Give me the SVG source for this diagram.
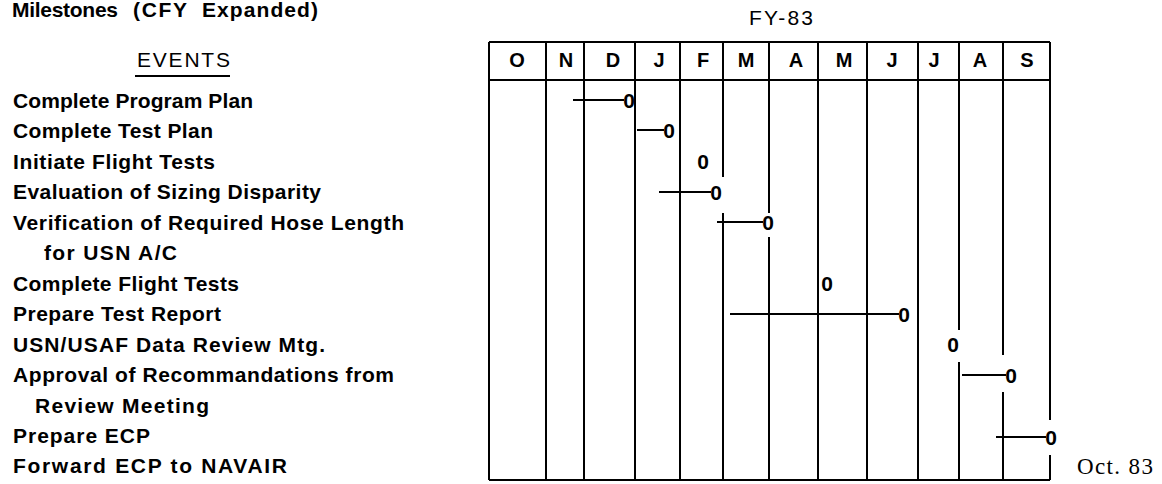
<svg xmlns="http://www.w3.org/2000/svg" width="1162" height="484" viewBox="0 0 1162 484">
<style>
.t{font-family:"Liberation Sans",Arial,sans-serif;font-size:21px;font-weight:bold;fill:#000}
.h{font-family:"Liberation Sans",Arial,sans-serif;font-size:21px;fill:#000}
.m{font-family:"Liberation Sans",Arial,sans-serif;font-size:20px;font-weight:bold;fill:#000;text-anchor:middle}
.z{font-family:"Liberation Sans",Arial,sans-serif;font-size:21px;font-weight:bold;fill:#000;text-anchor:middle}
.g{stroke:#000;stroke-width:2;fill:none}
.b{stroke:#000;stroke-width:2;fill:none}
</style>
<rect width="1162" height="484" fill="#fff"/>
<g id="title">
<text class="t" y="17" font-size="19"><tspan x="12" textLength="106">Milestones</tspan><tspan x="133" textLength="54">(CFY</tspan><tspan x="202" textLength="116">Expanded)</tspan></text>
<text class="h" x="137" y="67" textLength="93">EVENTS</text>
<line class="g" x1="135" y1="76" x2="230" y2="76"/>
<text class="h" x="749" y="25" textLength="64">FY-83</text>
</g>
<g id="grid">
<path class="g" d="M489 42H1050M489 80H1050M489 480H1050M489 42V480M546 42V480M584 42V480M635 42V480M680 42V480M723 42V177M723 213V480M769 42V213M769 237V480M818 42V480M867 42V480M918 42V480M959 42V330M959 362V480M1003 42V355M1003 392V480M1050 42V420M1050 455V480"/>
<g id="months">
<text class="m" x="517" y="67">O</text>
<text class="m" x="566" y="67">N</text>
<text class="m" x="613" y="67">D</text>
<text class="m" x="659" y="67">J</text>
<text class="m" x="703" y="67">F</text>
<text class="m" x="746" y="67">M</text>
<text class="m" x="796" y="67">A</text>
<text class="m" x="844" y="67">M</text>
<text class="m" x="892" y="67">J</text>
<text class="m" x="934" y="67">J</text>
<text class="m" x="980" y="67">A</text>
<text class="m" x="1027" y="67">S</text>
</g>
</g>
<g id="connectors">
<line class="b" x1="573" y1="100" x2="624" y2="100"/>
<line class="b" x1="637" y1="130" x2="664" y2="130"/>
<line class="b" x1="659" y1="192" x2="711" y2="192"/>
<line class="b" x1="717" y1="222" x2="763" y2="222"/>
<line class="b" x1="730" y1="314" x2="899" y2="314"/>
<line class="b" x1="962" y1="375" x2="1006" y2="375"/>
<line class="b" x1="996" y1="437" x2="1046" y2="437"/>
</g>
<g id="ev1"><text class="t" x="13" y="107.5" textLength="240">Complete Program Plan</text><text class="z" x="629" y="107.5">0</text></g>
<g id="ev2"><text class="t" x="13" y="138" textLength="200">Complete Test Plan</text><text class="z" x="669" y="137.5">0</text></g>
<g id="ev3"><text class="t" x="13" y="168.5" textLength="202">Initiate Flight Tests</text><text class="z" x="703" y="168.5">0</text></g>
<g id="ev4"><text class="t" x="13" y="199" textLength="308">Evaluation of Sizing Disparity</text><text class="z" x="716" y="199.5">0</text></g>
<g id="ev5"><text class="t" x="13" y="229.5" textLength="391">Verification of Required Hose Length</text><text class="t" x="44" y="260" textLength="133">for USN A/C</text><text class="z" x="768" y="229.5">0</text></g>
<g id="ev6"><text class="t" x="13" y="290.5" textLength="226">Complete Flight Tests</text><text class="z" x="827" y="290.5">0</text></g>
<g id="ev7"><text class="t" x="13" y="321" textLength="208">Prepare Test Report</text><text class="z" x="904" y="321.5">0</text></g>
<g id="ev8"><text class="t" x="13" y="351.5" textLength="312">USN/USAF Data Review Mtg.</text><text class="z" x="953" y="351.5">0</text></g>
<g id="ev9"><text class="t" x="13" y="382" textLength="381">Approval of Recommandations from</text><text class="t" x="35" y="412.5" textLength="174">Review Meeting</text><text class="z" x="1011" y="382.5">0</text></g>
<g id="ev10"><text class="t" x="13" y="443" textLength="137">Prepare ECP</text><text class="z" x="1051" y="444.5">0</text></g>
<g id="ev11"><text class="t" x="13" y="473" textLength="274">Forward ECP to NAVAIR</text><text x="1077" y="474" font-family="'Liberation Serif','Times New Roman',serif" font-size="23" textLength="76">Oct. 83</text></g>
</svg>
